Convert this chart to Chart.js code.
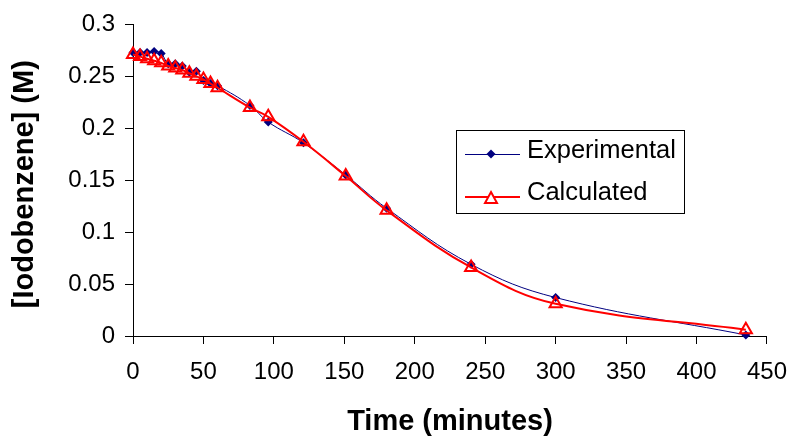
<!DOCTYPE html>
<html>
<head>
<meta charset="utf-8">
<script src="https://cdn.jsdelivr.net/npm/chart.js@4/dist/chart.umd.min.js"></script>
<style>
    html, body { margin: 0; padding: 0; background: #fff; }
    #wrap { width: 801px; height: 443px; }
</style>
</head>
<body>
<div id="wrap"><canvas id="chart" width="801" height="443"></canvas></div>
<script>
// Data
const times = [0, 5, 10, 15, 20, 25, 30, 35, 40, 45, 50, 55, 60, 83, 96, 121, 151, 180, 240, 300, 435];
const experimental = [0.273, 0.273, 0.273, 0.274, 0.272, 0.262, 0.262, 0.260, 0.254, 0.255, 0.246, 0.243, 0.241,
    0.222, 0.206, 0.186, 0.155, 0.123, 0.069, 0.037, 0.001];
const calculated = [0.271, 0.269, 0.267, 0.265, 0.263, 0.260, 0.258, 0.256, 0.253, 0.250, 0.247, 0.243, 0.239,
    0.220, 0.211, 0.187, 0.154, 0.121, 0.066, 0.031, 0.006];
const xTickLabels = ['0', '50', '100', '150', '200', '250', '300', '350', '400', '450'];
const yTickLabels = ['0', '0.05', '0.1', '0.15', '0.2', '0.25', '0.3'];

Chart.defaults.font.family = '"Liberation Sans", Arial, sans-serif';
Chart.defaults.color = '#000';

function toPoints(ys) {
    return times.map(function(t, i) { return { x: t, y: ys[i] }; });
}

// Legend box drawn inside the plot, like the Excel original
const boxLegend = {
    id: 'boxLegend',
    afterDraw: function(chart) {
        const c = chart.ctx;
        const x0 = 456, y0 = 130, w = 228, h = 83;
        c.save();
        c.fillStyle = '#fff';
        c.fillRect(x0, y0, w, h);
        c.strokeStyle = '#000';
        c.lineWidth = 1;
        c.strokeRect(x0 + 0.5, y0 + 0.5, w, h);

        // Experimental
        let y = 154;
        c.strokeStyle = '#000080';
        c.lineWidth = 1;
        c.beginPath(); c.moveTo(465, y + 0.5); c.lineTo(520, y + 0.5); c.stroke();
        c.fillStyle = '#000080';
        c.beginPath(); c.moveTo(491, y - 4.5); c.lineTo(495.5, y); c.lineTo(491, y + 4.5); c.lineTo(486.5, y); c.closePath(); c.fill();

        // Calculated
        y = 197;
        c.strokeStyle = '#ff0000';
        c.lineWidth = 2;
        c.beginPath(); c.moveTo(465, y); c.lineTo(520, y); c.stroke();
        c.fillStyle = '#fff';
        c.beginPath(); c.moveTo(491, y - 5); c.lineTo(497, y + 6); c.lineTo(485, y + 6); c.closePath(); c.fill(); c.stroke();

        c.fillStyle = '#000';
        c.font = '25.5px "Liberation Sans", Arial, sans-serif';
        c.textBaseline = 'middle';
        c.fillText('Experimental', 527, 151);
        c.fillText('Calculated', 527, 193);
        c.restore();
    }
};

new Chart(document.getElementById('chart'), {
    type: 'scatter',
    data: {
        datasets: [
            {
                label: 'Calculated',
                data: toPoints(calculated),
                showLine: true,
                borderColor: '#ff0000',
                borderWidth: 2,
                tension: 0.4,
                pointStyle: 'triangle',
                pointRadius: 7,
                pointBorderWidth: 2,
                pointBorderColor: '#ff0000',
                pointBackgroundColor: 'rgba(0,0,0,0)',
                clip: false,
                order: 0
            },
            {
                label: 'Experimental',
                data: toPoints(experimental),
                showLine: true,
                borderColor: '#000080',
                borderWidth: 1,
                tension: 0.4,
                pointStyle: 'rectRot',
                pointRadius: 4.5,
                pointBorderWidth: 0,
                pointBackgroundColor: '#000080',
                pointBorderColor: '#000080',
                clip: false,
                order: 1
            }
        ]
    },
    options: {
        responsive: false,
        animation: false,
        layout: { padding: { left: 0, right: 25, top: 22, bottom: 0 } },
        plugins: {
            legend: { display: false },
            tooltip: { enabled: false }
        },
        scales: {
            x: {
                type: 'linear',
                min: 0,
                max: 450,
                afterFit: function(scale) { scale.height = 107; },
                ticks: {
                    stepSize: 50,
                    padding: 14,
                    maxRotation: 0,
                    font: { size: 24 },
                    callback: function(v, i) { return xTickLabels[i]; }
                },
                grid: { drawOnChartArea: false, tickLength: 8, color: '#000' },
                border: { color: '#000' },
                title: {
                    display: true,
                    text: 'Time (minutes)',
                    font: { size: 29, weight: 'bold' },
                    padding: { top: 0, bottom: 4 }
                }
            },
            y: {
                min: 0,
                max: 0.3,
                afterFit: function(scale) { scale.width = 133; },
                ticks: {
                    stepSize: 0.05,
                    padding: 10,
                    font: { size: 24 },
                    callback: function(v, i) { return yTickLabels[i]; }
                },
                grid: { drawOnChartArea: false, tickLength: 8, color: '#000' },
                border: { color: '#000' },
                title: {
                    display: true,
                    text: '[Iodobenzene] (M) ',
                    font: { size: 29, weight: 'bold' },
                    padding: { top: 8, bottom: 0 }
                }
            }
        }
    },
    plugins: [boxLegend]
});
</script>
</body>
</html>
